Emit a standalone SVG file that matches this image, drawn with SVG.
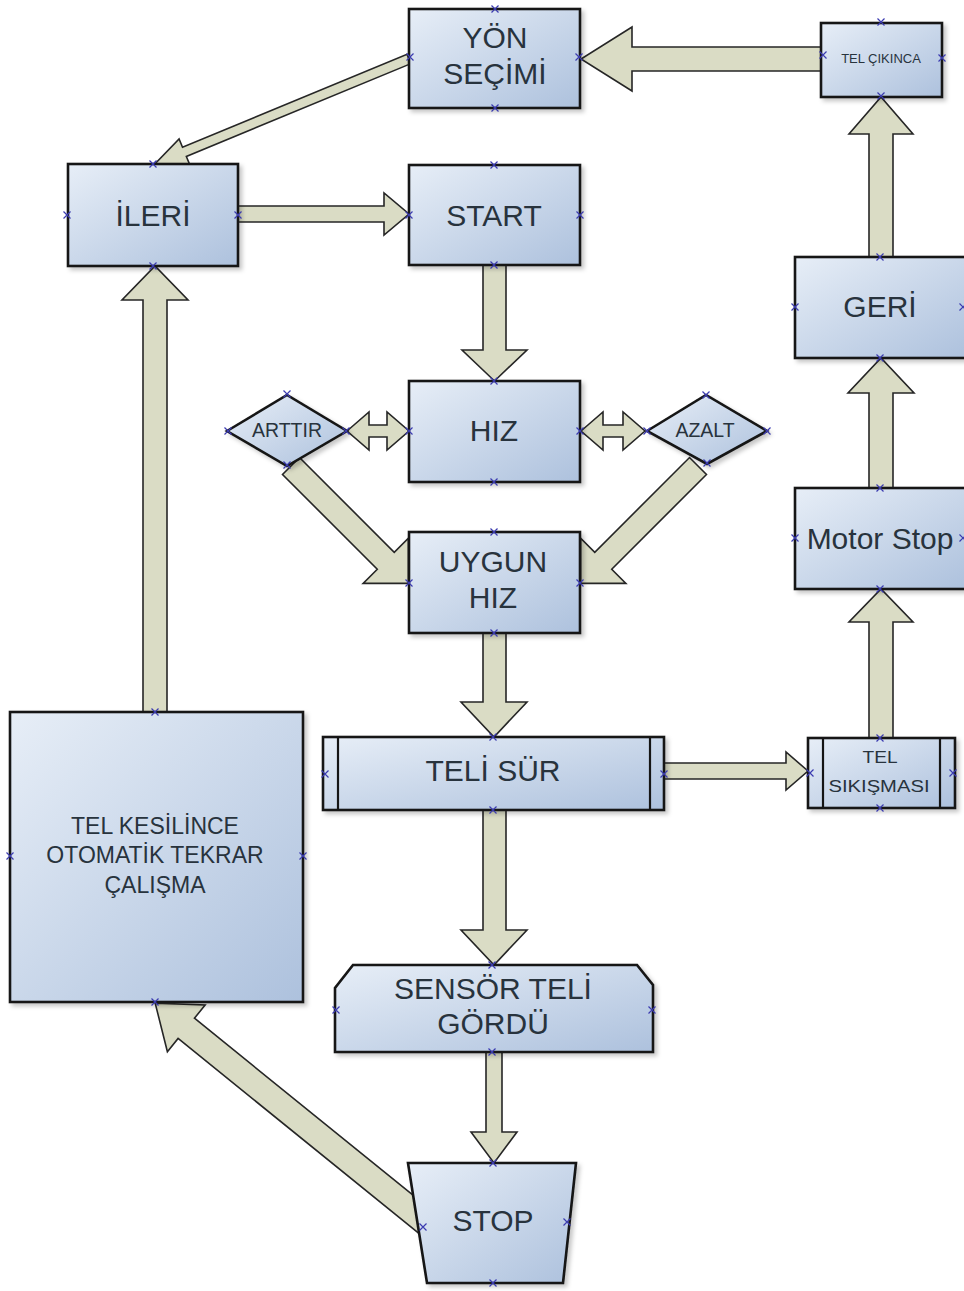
<svg xmlns="http://www.w3.org/2000/svg" xmlns:xlink="http://www.w3.org/1999/xlink" width="964" height="1291" viewBox="0 0 964 1291">
<defs>
<linearGradient id="nf" x1="0" y1="0" x2="1" y2="1">
<stop offset="0" stop-color="#e7eef7"/>
<stop offset="1" stop-color="#adc1dd"/>
</linearGradient>
<filter id="sh" x="-10%" y="-10%" width="130%" height="130%">
<feDropShadow dx="3" dy="3" stdDeviation="2" flood-color="#000" flood-opacity="0.22"/>
</filter>
<g id="cp"><path d="M-3.5,-3.5L3.5,3.5M3.5,-3.5L-3.5,3.5" stroke="#3b3bb0" stroke-width="1.2" fill="none"/></g>
</defs>
<style>
.n{fill:url(#nf);stroke:#151515;stroke-width:2.6;filter:url(#sh)}
.ln{stroke:#151515;stroke-width:2.2;fill:none}
.a{fill:#dadcc5;stroke:#262626;stroke-width:1.6;stroke-linejoin:miter}
.t{font-family:"Liberation Sans",Arial,sans-serif;fill:#28333d;text-anchor:middle}
.b{font-size:30px}
.m{font-size:23px}
.s{font-size:19.5px}
</style>
<rect width="964" height="1291" fill="#ffffff"/>

<g id="connectors">
<polygon class="a" points="821,47 632,47 632,27 581,59 632,91 632,71 821,71"/>
<polygon class="a" points="0,-5 243,-5 243,-14 275,0 243,14 243,5 0,5" transform="translate(409,59) rotate(157.54)"/>
<polygon class="a" points="238,206 384,206 384,193 409,214 384,235 384,222 238,222"/>
<polygon class="a" points="483,265 483,350 462,350 494.5,381 527,350 506,350 506,265"/>
<polygon class="a" points="347,431 369,412 369,425 387,425 387,412 409,431 387,450 387,437 369,437 369,450"/>
<polygon class="a" points="581,431 603,412 603,425 623,425 623,412 645,431 623,450 623,437 603,437 603,450"/>
<polygon class="a" points="0,-12 134,-12 134,-32 166,0 134,32 134,12 0,12" transform="translate(291,466) rotate(45)"/>
<polygon class="a" points="0,-12 134,-12 134,-32 166,0 134,32 134,12 0,12" transform="translate(698,466) rotate(135)"/>
<polygon class="a" points="483,633 483,702 461,702 494,737 527,702 506,702 506,633"/>
<polygon class="a" points="664,763 786,763 786,752 808,771 786,790 786,779 664,779"/>
<polygon class="a" points="869,738 869,622 849,622 881,589 913,622 893,622 893,738"/>
<polygon class="a" points="869,488 869,393 848,393 881,358 914,393 893,393 893,488"/>
<polygon class="a" points="869,257 869,134 849,134 881,97 913,134 893,134 893,257"/>
<polygon class="a" points="483,810 483,930 461,930 494,965 527,930 506,930 506,810"/>
<polygon class="a" points="486,1052 486,1132 471,1132 494,1163 517,1132 502,1132 502,1052"/>
<polygon class="a" points="0,-13 311,-13 311,-30 351,0 311,30 311,13 0,13" transform="translate(428,1224) rotate(-141.01)"/>
<polygon class="a" points="143,712 143,300 122,300 155,266 188,300 167,300 167,712"/>
</g>

<g id="yon-secimi">
<rect class="n" x="409" y="9" width="171" height="99"/>
<text class="t b" x="495" y="48">YÖN</text>
<text class="t b" x="495" y="84">SEÇİMİ</text>
</g>
<g id="tel-cikinca">
<rect class="n" x="821" y="23" width="121" height="74"/>
<text class="t" style="font-size:13px" x="881" y="63">TEL ÇIKINCA</text>
</g>
<g id="ileri">
<rect class="n" x="68" y="164" width="170" height="102"/>
<text class="t b" x="153" y="226">İLERİ</text>
</g>
<g id="start">
<rect class="n" x="409" y="165" width="171" height="100"/>
<text class="t b" x="494" y="226">START</text>
</g>
<g id="geri">
<rect class="n" x="795" y="257" width="171" height="101"/>
<text class="t b" x="880" y="317">GERİ</text>
</g>
<g id="hiz">
<rect class="n" x="409" y="381" width="171" height="101"/>
<text class="t b" x="494" y="441">HIZ</text>
</g>
<g id="arttir">
<polygon class="n" points="227,431 287,395 347,431 287,466"/>
<text class="t s" x="287" y="437">ARTTIR</text>
</g>
<g id="azalt">
<polygon class="n" points="647,431 706,395 767,431 707,464"/>
<text class="t s" x="705" y="437">AZALT</text>
</g>
<g id="motor-stop">
<rect class="n" x="795" y="488" width="171" height="101"/>
<text class="t b" x="880" y="549">Motor Stop</text>
</g>
<g id="uygun-hiz">
<rect class="n" x="409" y="532" width="171" height="101"/>
<text class="t b" x="493" y="572">UYGUN</text>
<text class="t b" x="493" y="608">HIZ</text>
</g>
<g id="teli-sur">
<rect class="n" x="323" y="737" width="341" height="73"/>
<line class="ln" x1="338" y1="737" x2="338" y2="810"/>
<line class="ln" x1="650" y1="737" x2="650" y2="810"/>
<text class="t b" x="493" y="781">TELİ SÜR</text>
</g>
<g id="tel-sikismasi">
<rect class="n" x="808" y="738" width="147" height="70"/>
<line class="ln" x1="823" y1="738" x2="823" y2="808"/>
<line class="ln" x1="940" y1="738" x2="940" y2="808"/>
<text class="t" style="font-size:16px" x="880" y="763" textLength="35" lengthAdjust="spacingAndGlyphs">TEL</text>
<text class="t" style="font-size:16px" x="879" y="792" textLength="101" lengthAdjust="spacingAndGlyphs">SIKIŞMASI</text>
</g>
<g id="tel-kesilince">
<rect class="n" x="10" y="712" width="293" height="290"/>
<text class="t m" x="155" y="834">TEL KESİLİNCE</text>
<text class="t m" x="155" y="863">OTOMATİK TEKRAR</text>
<text class="t m" x="155" y="893">ÇALIŞMA</text>
</g>
<g id="sensor">
<polygon class="n" points="353,965 637,965 653,985 653,1052 335,1052 335,988"/>
<text class="t b" x="493" y="999">SENSÖR TELİ</text>
<text class="t b" x="493" y="1034">GÖRDÜ</text>
</g>
<g id="stop">
<polygon class="n" points="408,1163 576,1163 563,1283 427,1283"/>
<text class="t b" x="493" y="1231">STOP</text>
</g>

<g id="connection-points">
<use xlink:href="#cp" x="495" y="9"/><use xlink:href="#cp" x="495" y="108"/><use xlink:href="#cp" x="410" y="57"/><use xlink:href="#cp" x="579" y="57"/>
<use xlink:href="#cp" x="881" y="22"/><use xlink:href="#cp" x="881" y="96"/><use xlink:href="#cp" x="823" y="55"/><use xlink:href="#cp" x="942" y="58"/>
<use xlink:href="#cp" x="153" y="164"/><use xlink:href="#cp" x="153" y="266"/><use xlink:href="#cp" x="67" y="215"/><use xlink:href="#cp" x="238" y="215"/>
<use xlink:href="#cp" x="494" y="165"/><use xlink:href="#cp" x="494" y="265"/><use xlink:href="#cp" x="409" y="215"/><use xlink:href="#cp" x="580" y="215"/>
<use xlink:href="#cp" x="880" y="257"/><use xlink:href="#cp" x="880" y="358"/><use xlink:href="#cp" x="795" y="307"/><use xlink:href="#cp" x="963" y="307"/>
<use xlink:href="#cp" x="494" y="381"/><use xlink:href="#cp" x="494" y="482"/><use xlink:href="#cp" x="409" y="431"/><use xlink:href="#cp" x="580" y="431"/>
<use xlink:href="#cp" x="228" y="431"/><use xlink:href="#cp" x="287" y="394"/><use xlink:href="#cp" x="346" y="431"/><use xlink:href="#cp" x="287" y="465"/>
<use xlink:href="#cp" x="647" y="431"/><use xlink:href="#cp" x="706" y="395"/><use xlink:href="#cp" x="767" y="431"/><use xlink:href="#cp" x="707" y="463"/>
<use xlink:href="#cp" x="880" y="488"/><use xlink:href="#cp" x="880" y="589"/><use xlink:href="#cp" x="795" y="538"/><use xlink:href="#cp" x="963" y="538"/>
<use xlink:href="#cp" x="494" y="532"/><use xlink:href="#cp" x="494" y="633"/><use xlink:href="#cp" x="409" y="583"/><use xlink:href="#cp" x="580" y="583"/>
<use xlink:href="#cp" x="493" y="737"/><use xlink:href="#cp" x="493" y="810"/><use xlink:href="#cp" x="325" y="774"/><use xlink:href="#cp" x="664" y="774"/>
<use xlink:href="#cp" x="880" y="738"/><use xlink:href="#cp" x="880" y="808"/><use xlink:href="#cp" x="810" y="773"/><use xlink:href="#cp" x="953" y="773"/>
<use xlink:href="#cp" x="155" y="712"/><use xlink:href="#cp" x="155" y="1002"/><use xlink:href="#cp" x="10" y="856"/><use xlink:href="#cp" x="303" y="856"/>
<use xlink:href="#cp" x="492" y="965"/><use xlink:href="#cp" x="492" y="1052"/><use xlink:href="#cp" x="336" y="1010"/><use xlink:href="#cp" x="652" y="1010"/>
<use xlink:href="#cp" x="493" y="1163"/><use xlink:href="#cp" x="493" y="1283"/><use xlink:href="#cp" x="423" y="1227"/><use xlink:href="#cp" x="567" y="1222"/>
</g>
</svg>
